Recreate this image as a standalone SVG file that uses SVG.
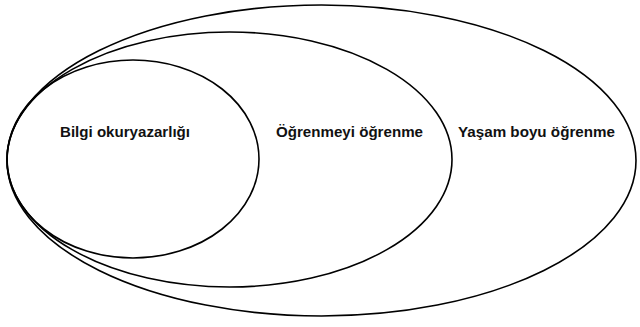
<svg xmlns="http://www.w3.org/2000/svg" width="640" height="327" viewBox="0 0 640 327">
<style>
.e{fill:none;stroke:#000;stroke-width:1.6}
.t{font-family:"Liberation Sans",Arial,sans-serif;font-weight:bold;font-size:15.5px;fill:#111}
</style>
<rect width="640" height="327" fill="#fff"/>
<g id="outer">
<ellipse class="e" cx="321.5" cy="160.5" rx="314.5" ry="155.5"/>
<text class="t" x="458" y="137" textLength="157" lengthAdjust="spacingAndGlyphs">Yaşam boyu öğrenme</text>
</g>
<g id="middle">
<ellipse class="e" cx="229.5" cy="159.5" rx="222.5" ry="127.5"/>
<text class="t" x="276" y="137" textLength="147" lengthAdjust="spacingAndGlyphs">Öğrenmeyi öğrenme</text>
</g>
<g id="inner">
<ellipse class="e" cx="133" cy="159" rx="126" ry="99"/>
<text class="t" x="60" y="137" textLength="130" lengthAdjust="spacingAndGlyphs">Bilgi okuryazarlığı</text>
</g>
<g id="connectors"/>
</svg>
